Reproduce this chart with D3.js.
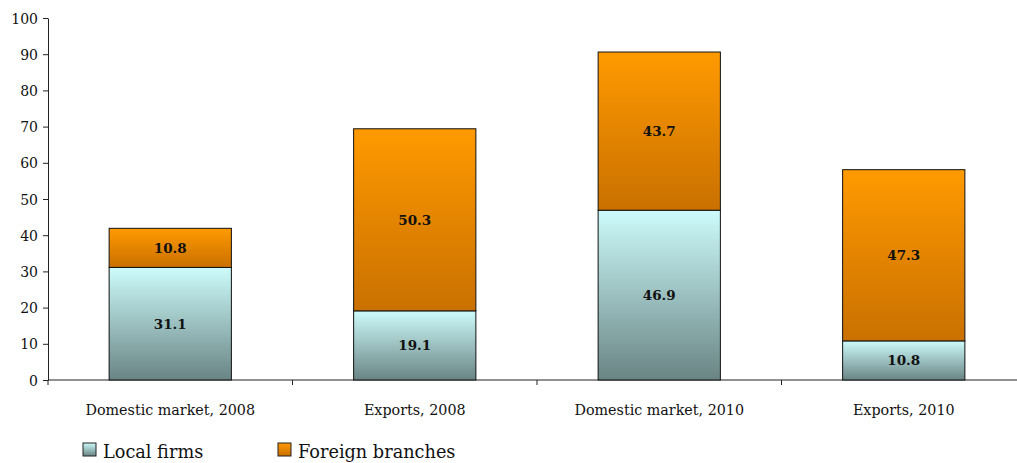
<!DOCTYPE html>
<html>
<head>
<meta charset="utf-8">
<script src="https://cdn.jsdelivr.net/npm/d3@7"></script>
<style>
  body { margin: 0; background: #fff; }
</style>
</head>
<body>
<div id="chart"></div>
<script>
const categories = ["Domestic market, 2008", "Exports, 2008", "Domestic market, 2010", "Exports, 2010"];
const localFirms = [31.1, 19.1, 46.9, 10.8];
const foreignBranches = [10.8, 50.3, 43.7, 47.3];
const seriesNames = ["Local firms", "Foreign branches"];
const yTicks = [0, 10, 20, 30, 40, 50, 60, 70, 80, 90, 100];

const serif = "'DejaVu Serif', serif";

const W = 1017, H = 463;
const margin = { top: 18, right: -9, bottom: 83, left: 48 };
const width = W - margin.left - margin.right;
const height = H - margin.top - margin.bottom;

const svg = d3.select("#chart").append("svg")
    .attr("width", W).attr("height", H);

const defs = svg.append("defs");
function grad(id, top, bottom) {
    const g = defs.append("linearGradient").attr("id", id)
        .attr("x1", 0).attr("y1", 0).attr("x2", 0).attr("y2", 1);
    g.append("stop").attr("offset", "0%").attr("stop-color", top);
    g.append("stop").attr("offset", "100%").attr("stop-color", bottom);
}
grad("gLocal", "#cdfbfb", "#6a8484");
grad("gForeign", "#ff9a00", "#c97000");

const g = svg.append("g").attr("transform", `translate(${margin.left},${margin.top})`);

const x = d3.scaleBand().domain(categories).range([0, width]).paddingInner(0.5).paddingOuter(0.25);
const y = d3.scaleLinear().domain([0, 100]).range([height, 0]);

// y axis
const yAxis = g.append("g")
    .call(d3.axisLeft(y).tickValues(yTicks).tickSize(5).tickSizeOuter(0));
yAxis.select(".domain").attr("stroke", "#222");
yAxis.selectAll(".tick line").attr("stroke", "#222");
yAxis.selectAll("text")
    .style("font-family", serif)
    .style("font-size", "14px")
    .attr("fill", "#111")
    .attr("x", -10).attr("dy", "0.36em");

// x axis with ticks at category boundaries
const xAxis = g.append("g").attr("transform", `translate(0,${height})`);
xAxis.append("line").attr("x1", 0).attr("x2", width).attr("stroke", "#222");
const step = x.step();
const bounds = d3.range(0, categories.length + 1).map(i => i * step);
xAxis.selectAll(".bt").data(bounds).enter().append("line")
    .attr("x1", d => d).attr("x2", d => d).attr("y1", 0).attr("y2", 5)
    .attr("stroke", "#222");
xAxis.selectAll(".cl").data(categories).enter().append("text")
    .attr("x", d => x(d) + x.bandwidth() / 2)
    .attr("y", 35)
    .attr("text-anchor", "middle")
    .attr("fill", "#111")
    .style("font-family", serif)
    .style("font-size", "14.3px")
    .text(d => d);

// bars
const stacks = categories.map((c, i) => ({ cat: c, local: localFirms[i], foreign: foreignBranches[i] }));

const bars = g.selectAll(".bar").data(stacks).enter().append("g");
bars.append("rect")
    .attr("x", d => x(d.cat)).attr("width", x.bandwidth())
    .attr("y", d => y(d.local)).attr("height", d => y(0) - y(d.local))
    .attr("fill", "url(#gLocal)").attr("stroke", "#111").attr("stroke-width", 1);
bars.append("rect")
    .attr("x", d => x(d.cat)).attr("width", x.bandwidth())
    .attr("y", d => y(d.local + d.foreign)).attr("height", d => y(d.local) - y(d.local + d.foreign))
    .attr("fill", "url(#gForeign)").attr("stroke", "#111").attr("stroke-width", 1);

function valueLabel(sel, yv, txt) {
    sel.append("text")
        .attr("x", d => x(d.cat) + x.bandwidth() / 2)
        .attr("y", d => y(yv(d)) + 5)
        .attr("text-anchor", "middle")
        .attr("fill", "#111")
        .style("font-size", "13.5px").style("font-weight", "bold")
        .style("font-family", serif)
        .text(txt);
}
valueLabel(bars, d => d.local / 2, d => d.local.toFixed(1));
valueLabel(bars, d => d.local + d.foreign / 2, d => d.foreign.toFixed(1));

// legend
const legend = svg.append("g").attr("transform", "translate(83,443)");
const legX = [0, 195];
const legFill = ["url(#gLocal)", "url(#gForeign)"];
seriesNames.forEach((name, i) => {
    const lg = legend.append("g").attr("transform", `translate(${legX[i]},0)`);
    lg.append("rect").attr("width", 13).attr("height", 13)
        .attr("fill", legFill[i]).attr("stroke", "#222");
    lg.append("text").attr("x", 20).attr("y", 15)
        .attr("fill", "#111")
        .style("font-family", serif)
        .style("font-size", "17.7px").text(name);
});
</script>
</body>
</html>
